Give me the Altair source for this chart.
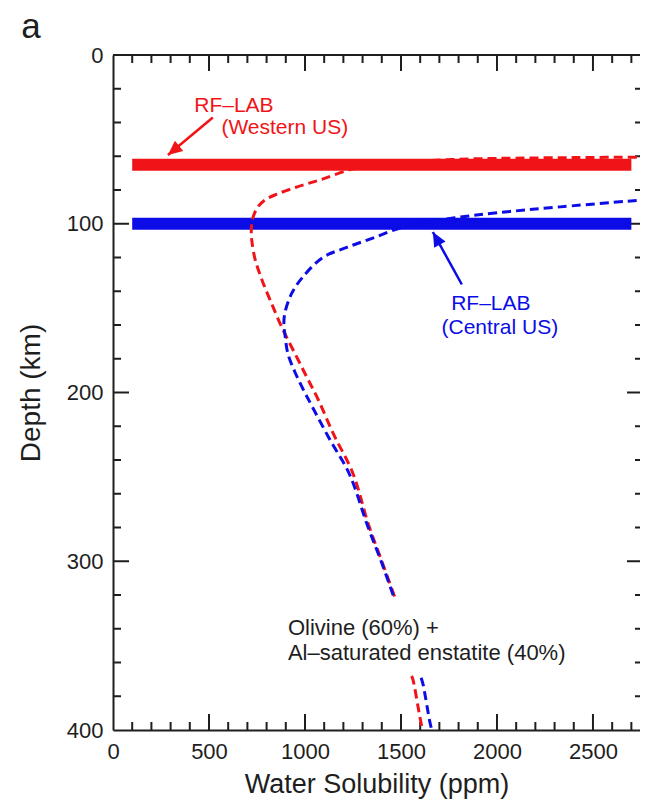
import altair as alt
import pandas as pd

# ---------------- data ----------------
# Water solubility profile, Western US geotherm (red dashed)
west_sol = [2800, 2400, 2000, 1750, 1550, 1400, 1250, 1078, 950, 853, 790, 755, 733, 723, 720, 723,
            740, 775, 825, 882, 948, 1010, 1068, 1150, 1250, 1330, 1400, 1470,
            1555, 1562, 1598, 1612]
west_depth = [60.5, 60.8, 61.3, 62, 63.5, 65, 67.5, 74, 78.5, 82.5, 86, 90, 95, 100, 105, 110,
              121, 133, 147, 162, 177, 191, 204, 225, 248, 278, 300, 322,
              368, 370, 392, 400]
west_seg = [1] * 28 + [2] * 4

# Water solubility profile, Central US geotherm (blue dashed)
central_sol = [2800, 2330, 2000, 1780, 1600, 1494, 1353, 1218, 1093, 989, 932, 895, 890, 895,
               911, 948, 990, 1036, 1130, 1230, 1326, 1400, 1465,
               1605, 1615, 1650, 1660]
central_depth = [85.5, 90, 93.5, 96.5, 99.5, 102.5, 108.5, 114, 120, 131.5, 141, 153, 160, 165,
                 177, 188, 198, 208, 228, 248, 279, 301, 322,
                 369, 373, 395, 400]
central_seg = [1] * 23 + [2] * 4

# RF-LAB depths (thick bars)
lab_region = ["Western US", "Central US"]
lab_depth = [65, 100]
lab_from = [100, 100]
lab_to = [2700, 2700]

# annotation arrows (tail -> tip)
arrow_region = ["Western US", "Central US"]
arrow_tail_sol = [520, 1817]
arrow_tail_depth = [37, 136]
arrow_tip_sol = [286, 1666]
arrow_tip_depth = [59.3, 104.9]
arrow_angle = [230.5, 331]

# annotation texts
label_text = ["RF\u2013LAB", "(Western US)", "RF\u2013LAB", "(Central US)"]
label_sol = [630, 895, 1968, 2015]
label_depth = [30, 43, 147.5, 162]
label_region = ["Western US", "Western US", "Central US", "Central US"]

note_text = ["Olivine (60%) +", "Al\u2013saturated enstatite (40%)"]
note_sol = [911, 911]
note_depth = [339.5, 354.5]

# axes
x_label_values = [0, 500, 1000, 1500, 2000, 2500]
y_label_values = [0, 100, 200, 300, 400]
x_major = [500, 1000, 1500, 2000, 2500]
x_minor = [v for v in range(100, 2800, 100) if v % 500]
y_major = [100, 200, 300]
y_minor = [v for v in range(20, 400, 20) if v % 100]
x_max_visible = 2745   # the figure is cropped just left of its 2800 frame

# ---------------- style ----------------
FONT = "Liberation Sans"
INK = "#1e1e1e"
W, H = 527, 675
RED_BAR, BLUE_BAR = "#f01418", "#0c0ce6"
RED_DASH, BLUE_DASH = "#a82a3c", "#1a1a7c"
RED_TEXT, BLUE_TEXT = "#bc3c48", "#3c3c98"
RED_ARROW_LINE, BLUE_ARROW_LINE = "#a82a3a", "#2a2a60"
ARROW_PATH = "M0,0L-0.9,2L0.9,2Z"

xs = alt.Scale(domain=[0, x_max_visible], nice=False, zero=False)
ys = alt.Scale(domain=[0, 400], reverse=True, nice=False, zero=False)

x_axis = alt.Axis(values=x_label_values, ticks=False, domain=True, domainColor=INK, domainWidth=2,
                  grid=False, format="d",
                  labelFontSize=22, labelPadding=11, labelFont=FONT, labelColor=INK,
                  labelFlush=False,
                  title="Water Solubility (ppm)", titleFontSize=27, titleFont=FONT,
                  titleFontWeight="normal", titleColor=INK, titleY=54,
                  titleBaseline="middle")
y_axis = alt.Axis(values=y_label_values, ticks=False, domain=True, domainColor=INK, domainWidth=2,
                  grid=False, format="d",
                  labelFontSize=22, labelPadding=10, labelFont=FONT, labelColor=INK,
                  labelFlush=False,
                  title="Depth (km)", titleFontSize=28, titleFont=FONT,
                  titleFontWeight="normal", titleColor=INK, titleAngle=270,
                  titleX=-82, titleY=H / 2, titleAlign="center", titleBaseline="middle")


def X(field="sol"):
    return alt.X(f"{field}:Q", scale=xs, axis=x_axis)


def Y(field="depth"):
    return alt.Y(f"{field}:Q", scale=ys, axis=y_axis)


layers = []

# top frame line (the right frame lies just outside the cropped figure)
layers.append(alt.Chart(pd.DataFrame({"t": [0]})).mark_rule(color=INK, strokeWidth=2).encode(
    y=alt.value(0), x=alt.value(0), x2=alt.value(W)))

# inward ticks on all four sides
for vals, ln in ((x_major, 16), (x_minor, 8)):
    d = pd.DataFrame({"sol": vals})
    layers.append(alt.Chart(d).mark_rule(color=INK, strokeWidth=2).encode(
        x=X(), y=alt.value(H), y2=alt.value(H - ln)))
    layers.append(alt.Chart(d).mark_rule(color=INK, strokeWidth=2).encode(
        x=X(), y=alt.value(0), y2=alt.value(ln)))
for vals, ln in ((y_major, 16), (y_minor, 8)):
    d = pd.DataFrame({"depth": vals})
    layers.append(alt.Chart(d).mark_rule(color=INK, strokeWidth=2).encode(
        y=Y(), x=alt.value(0), x2=alt.value(ln)))
    layers.append(alt.Chart(d).mark_rule(color=INK, strokeWidth=2).encode(
        y=Y(), x=alt.value(W + 3), x2=alt.value(W + 3 - ln)))

# thick RF-LAB bars
bars = pd.DataFrame({"region": lab_region, "depth": lab_depth, "sol": lab_from, "sol2": lab_to})
layers.append(alt.Chart(bars).mark_rule(strokeWidth=12).encode(
    x=X(), x2="sol2:Q", y=Y(),
    color=alt.Color("region:N", scale=alt.Scale(domain=lab_region, range=[RED_BAR, BLUE_BAR]),
                    legend=None)))

# dashed solubility curves
curves = pd.concat([
    pd.DataFrame({"sol": west_sol, "depth": west_depth, "region": "Western US",
                  "grp": [f"W{s}" for s in west_seg], "i": range(len(west_sol))}),
    pd.DataFrame({"sol": central_sol, "depth": central_depth, "region": "Central US",
                  "grp": [f"C{s}" for s in central_seg], "i": range(len(central_sol))}),
])
layers.append(alt.Chart(curves).mark_line(strokeWidth=3, strokeDash=[9, 5], clip=True,
                                          interpolate="catmull-rom").encode(
    x=X(), y=Y(), detail="grp:N", order="i:Q",
    color=alt.Color("region:N", scale=alt.Scale(domain=lab_region, range=[RED_DASH, BLUE_DASH]),
                    legend=None)))

# arrows
arrows = pd.DataFrame({"region": arrow_region, "sol": arrow_tail_sol, "depth": arrow_tail_depth,
                       "sol2": arrow_tip_sol, "depth2": arrow_tip_depth, "ang": arrow_angle})
layers.append(alt.Chart(arrows).mark_rule(strokeWidth=2.5).encode(
    x=X(), y=Y(), x2="sol2:Q", y2="depth2:Q",
    color=alt.Color("region:N", scale=alt.Scale(domain=lab_region, range=[RED_ARROW_LINE, BLUE_ARROW_LINE]),
                    legend=None)))
for k, col in ((0, RED_BAR), (1, BLUE_BAR)):
    head = arrows.iloc[[k]]
    layers.append(alt.Chart(head).mark_point(shape=ARROW_PATH, filled=True, size=210, opacity=1,
                                             strokeWidth=0, color=col,
                                             angle=float(arrow_angle[k])).encode(
        x=X("sol2"), y=Y("depth2")))

# annotation texts
labels = pd.DataFrame({"text": label_text, "sol": label_sol, "depth": label_depth, "region": label_region})
layers.append(alt.Chart(labels).mark_text(font=FONT, fontSize=21, baseline="middle", align="center").encode(
    x=X(), y=Y(), text="text:N",
    color=alt.Color("region:N", scale=alt.Scale(domain=lab_region, range=[RED_TEXT, BLUE_TEXT]),
                    legend=None)))
notes = pd.DataFrame({"text": note_text, "sol": note_sol, "depth": note_depth})
layers.append(alt.Chart(notes).mark_text(font=FONT, fontSize=22, baseline="middle", align="left",
                                         color=INK).encode(
    x=X(), y=Y(), text="text:N"))

# panel letter
layers.append(alt.Chart(pd.DataFrame({"t": ["a"]})).mark_text(
    font=FONT, fontSize=35, align="center", baseline="alphabetic", color=INK).encode(
    x=alt.value(-82), y=alt.value(-17), text="t:N"))

chart = alt.layer(*layers).properties(
    width=W, height=H,
    padding={"left": 105, "top": 47, "right": 0, "bottom": 71},
    autosize=alt.AutoSizeParams(type="none"),
).configure_view(strokeWidth=0).configure(font=FONT)

chart.save("out.html", embed_options={"renderer": "svg", "actions": False})
